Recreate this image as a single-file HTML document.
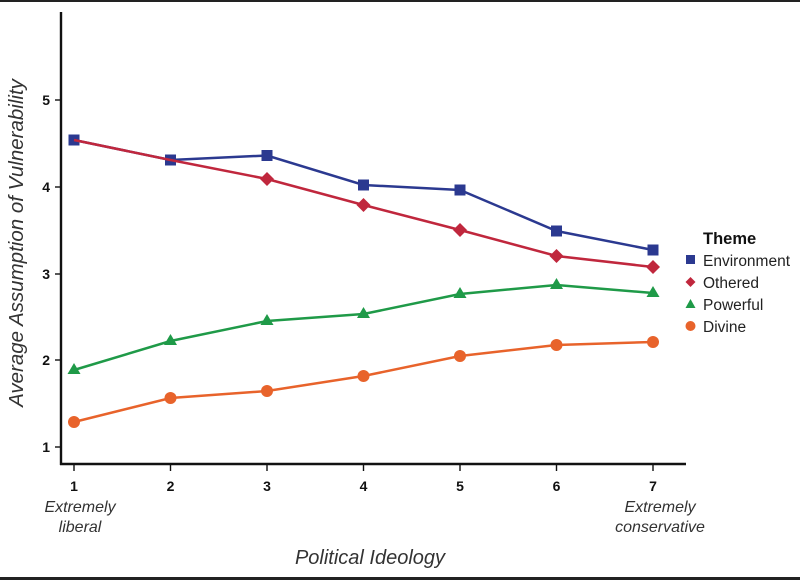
<!DOCTYPE html>
<html><head><style>body{margin:0;background:#fff}svg{display:block}text{font-family:"Liberation Sans",sans-serif}</style></head><body>
<svg width="800" height="580" xmlns="http://www.w3.org/2000/svg">
<rect width="800" height="580" fill="#fff"/>
<rect x="0" y="0" width="800" height="2" fill="#222"/>
<rect x="0" y="577" width="800" height="3" fill="#222"/>
<g stroke="#111" stroke-width="2.4" fill="none">
<line x1="61" y1="12" x2="61" y2="465"/><line x1="60" y1="464" x2="686" y2="464"/>
<g stroke-width="1.4">
<line x1="55" y1="100" x2="61" y2="100"/><line x1="55" y1="187" x2="61" y2="187"/><line x1="55" y1="274" x2="61" y2="274"/><line x1="55" y1="360" x2="61" y2="360"/><line x1="55" y1="447" x2="61" y2="447"/>
<line x1="74" y1="465" x2="74" y2="471"/><line x1="170.5" y1="465" x2="170.5" y2="471"/><line x1="267" y1="465" x2="267" y2="471"/><line x1="363.5" y1="465" x2="363.5" y2="471"/><line x1="460" y1="465" x2="460" y2="471"/><line x1="556.5" y1="465" x2="556.5" y2="471"/><line x1="653" y1="465" x2="653" y2="471"/>
</g></g>
<g font-size="14" font-weight="bold" fill="#111" text-anchor="end">
<text x="50" y="105">5</text><text x="50" y="192">4</text><text x="50" y="279">3</text><text x="50" y="365">2</text><text x="50" y="452">1</text></g>
<g font-size="14" font-weight="bold" fill="#111" text-anchor="middle">
<text x="74" y="491">1</text><text x="170.5" y="491">2</text><text x="267" y="491">3</text><text x="363.5" y="491">4</text><text x="460" y="491">5</text><text x="556.5" y="491">6</text><text x="653" y="491">7</text></g>
<g font-size="16" font-style="italic" fill="#333" text-anchor="middle">
<text x="80" y="512">Extremely</text><text x="80" y="532">liberal</text>
<text x="660" y="512">Extremely</text><text x="660" y="532">conservative</text></g>
<text x="370" y="564" font-size="20" font-style="italic" fill="#333" text-anchor="middle">Political Ideology</text>
<text transform="translate(23,243) rotate(-90)" font-size="20.5" font-style="italic" fill="#333" text-anchor="middle">Average Assumption of Vulnerability</text>
<polyline fill="none" stroke="#2b3990" stroke-width="2.5" points="74,140 170.5,160 267,155.5 363.5,185 460,190 556.5,231 653,250"/>
<g fill="#2b3990"><rect x="68.5" y="134.5" width="11" height="11"/><rect x="165" y="154.5" width="11" height="11"/><rect x="261.5" y="150" width="11" height="11"/><rect x="358" y="179.5" width="11" height="11"/><rect x="454.5" y="184.5" width="11" height="11"/><rect x="551" y="225.5" width="11" height="11"/><rect x="647.5" y="244.5" width="11" height="11"/></g>
<polyline fill="none" stroke="#c0273d" stroke-width="2.5" points="74,140 170.5,160 267,179 363.5,205 460,230 556.5,256 653,267"/>
<g fill="#c0273d">
<path d="M267,172l7,7l-7,7l-7,-7z"/><path d="M363.5,198l7,7l-7,7l-7,-7z"/><path d="M460,223l7,7l-7,7l-7,-7z"/><path d="M556.5,249l7,7l-7,7l-7,-7z"/><path d="M653,260l7,7l-7,7l-7,-7z"/></g>
<polyline fill="none" stroke="#1f9a48" stroke-width="2.5" points="74,370 170.5,341 267,321 363.5,314 460,294 556.5,285 653,293"/>
<g fill="#1f9a48">
<path d="M74,363l6.5,11h-13z"/><path d="M170.5,334l6.5,11h-13z"/><path d="M267,314l6.5,11h-13z"/><path d="M363.5,307l6.5,11h-13z"/><path d="M460,287l6.5,11h-13z"/><path d="M556.5,278l6.5,11h-13z"/><path d="M653,286l6.5,11h-13z"/></g>
<polyline fill="none" stroke="#e8632b" stroke-width="2.5" points="74,422 170.5,398 267,391 363.5,376 460,356 556.5,345 653,342"/>
<g fill="#e8632b"><circle cx="74" cy="422" r="6"/><circle cx="170.5" cy="398" r="6"/><circle cx="267" cy="391" r="6"/><circle cx="363.5" cy="376" r="6"/><circle cx="460" cy="356" r="6"/><circle cx="556.5" cy="345" r="6"/><circle cx="653" cy="342" r="6"/></g>
<text x="703" y="244" font-size="16.5" font-weight="bold" fill="#111">Theme</text>
<rect x="686" y="255" width="9" height="9" fill="#2b3990"/>
<path d="M690.5,277l5,5l-5,5l-5,-5z" fill="#c0273d"/>
<path d="M690.5,299l5,9h-10z" fill="#1f9a48"/>
<circle cx="690.5" cy="326" r="5" fill="#e8632b"/>
<g font-size="15.5" fill="#222"><text x="703" y="266">Environment</text><text x="703" y="288">Othered</text><text x="703" y="310">Powerful</text><text x="703" y="332">Divine</text></g>
</svg></body></html>
